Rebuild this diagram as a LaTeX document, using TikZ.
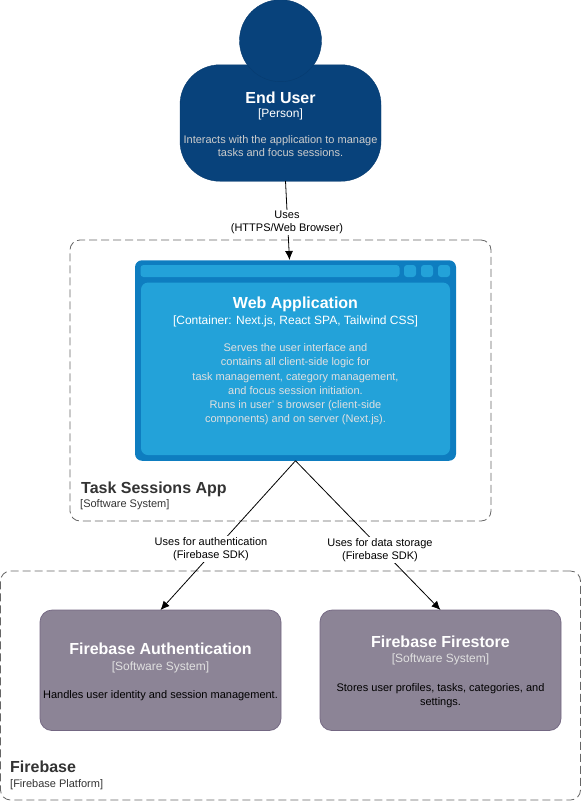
\documentclass[tikz,border=0pt]{standalone}
\usepackage{fontspec}
\setmainfont{Liberation Sans}
\usetikzlibrary{arrows.meta}

\definecolor{persfill}{HTML}{08427B}
\definecolor{persline}{HTML}{073B6F}
\definecolor{webouter}{HTML}{0E7DC0}
\definecolor{webinner}{HTML}{23A2D9}
\definecolor{fbfill}{HTML}{8C8496}
\definecolor{fbline}{HTML}{736782}

\newcommand{\bigtext}{\fontsize{16}{19}\bfseries\selectfont}
\newcommand{\subtext}{\fontsize{12}{13}\selectfont}
\newcommand{\smalltext}{\fontsize{11}{13}\selectfont}

\tikzset{
 boxtext/.style={align=center, inner sep=0pt, outer sep=0pt, font=\smalltext},
 person/.style={boxtext, fill=persfill, draw=persline, text=white},
 webpart/.style={fill=webinner, draw=none, rounded corners=3, inner sep=0pt, outer sep=0pt},
 fbbox/.style={boxtext, fill=fbfill, draw=fbline, line width=0.75pt, rounded corners=12, minimum width=241, minimum height=120.5},
 boundary/.style={draw=black!60, line width=0.8pt, dash pattern=on 8pt off 4pt, rounded corners=10, inner sep=0pt, outer sep=0pt},
 boundtext/.style={right, align=left, inner sep=0pt, text=black!80},
 rel/.style={draw=black, line width=0.8pt, -{Latex[length=9pt,width=8pt]}},
 rellabel/.style={fill=white, align=center, inner sep=1pt, font=\smalltext},
}

\begin{document}
\begin{tikzpicture}[x=1pt, y=-1pt]
\useasboundingbox (0,0) rectangle (581,801);

% boundaries
\node[boundary, minimum width=421, minimum height=281] (appbound) at (280.5,380.5) {};
\node[boundary, minimum width=580, minimum height=229] (fbbound) at (290.5,685.5) {};
\node[boundtext] (apptitle) at (81,489) {\bigtext Task Sessions App};
\node[boundtext] (appkind) at (80,504.5) {\smalltext [Software System]};
\node[boundtext] (fbtitle) at (10,767) {\bigtext Firebase};
\node[boundtext] (fbkind) at (10,784.5) {\smalltext [Firebase Platform]};

% person
\node[person, rounded corners=40, minimum width=201, minimum height=116.5] (userbody) at (280.5,123) {};
\node[person, circle, minimum size=82] (userhead) at (280.5,40.7) {};
\node[boxtext, text=white] (usertext) at (280.5,124)
{{\bigtext End User}\\[1pt]
{\subtext [Person]}\\[13pt]
\textcolor{black!20}{Interacts with the application to manage}\\
\textcolor{black!20}{tasks and focus sessions.}};

% web application
\node[fill=webouter, rounded corners=7, minimum width=321, minimum height=200.5, inner sep=0pt, outer sep=0pt] (webapp) at (295.5,360.5) {};
\node[webpart, minimum width=259, minimum height=12] (webbar) at (270,271) {};
\foreach \xs/\name in {410/one, 427/two, 444/three}
 \node[webpart, minimum width=12, minimum height=12] (web\name) at (\xs,271) {};
\node[webpart, boxtext, rounded corners=7, text=white, minimum width=309, minimum height=172.5] (webbody) at (295.5,368.8)
{{\bigtext Web Application}\\[3pt]
{\subtext [Container: Next.js, React SPA, Tailwind CSS]}\\[14pt]
\textcolor{black!12}{Serves the user interface and}\\[1.2pt]
\textcolor{black!12}{contains all client-side logic for}\\[1.2pt]
\textcolor{black!12}{task management, category management,}\\[1.2pt]
\textcolor{black!12}{and focus session initiation.}\\[1.2pt]
\textcolor{black!12}{Runs in user' s browser (client-side}\\[1.2pt]
\textcolor{black!12}{components) and on server (Next.js).}\\[5pt]
};

% firebase systems
\node[fbbox] (fbauth) at (160.5,670.3) {};
\node[boxtext] (fbauthtext) at (160.5,672)
{\textcolor{white}{\bigtext Firebase Authentication}\\[3pt]
\textcolor{black!12}{\subtext [Software System]}\\[15pt]
Handles user identity and session management.};
\node[fbbox] (fbstore) at (440.5,670.3) {};
\node[boxtext] (fbstoretext) at (440.5,672)
{\textcolor{white}{\bigtext Firebase Firestore}\\[2pt]
\textcolor{black!12}{\subtext [Software System]}\\[16pt]
Stores user profiles, tasks, categories, and\\[1pt]
settings.};

% connectors
\coordinate (userout) at (285.5,181);
\coordinate (webin) at (289.5,260);
\draw[rel] (userout) -- (webin);
\draw[rel] (webapp.south) -- (fbauth.north);
\draw[rel] (webapp.south) -- (fbstore.north);

\node[rellabel] (uselabel) at (287,222.5) {Uses\\(HTTPS/Web Browser)};
\node[rellabel] (authlabel) at (211,549) {Uses for authentication\\(Firebase SDK)};
\node[rellabel] (storelabel) at (380,550) {Uses for data storage\\(Firebase SDK)};

\end{tikzpicture}
\end{document}
